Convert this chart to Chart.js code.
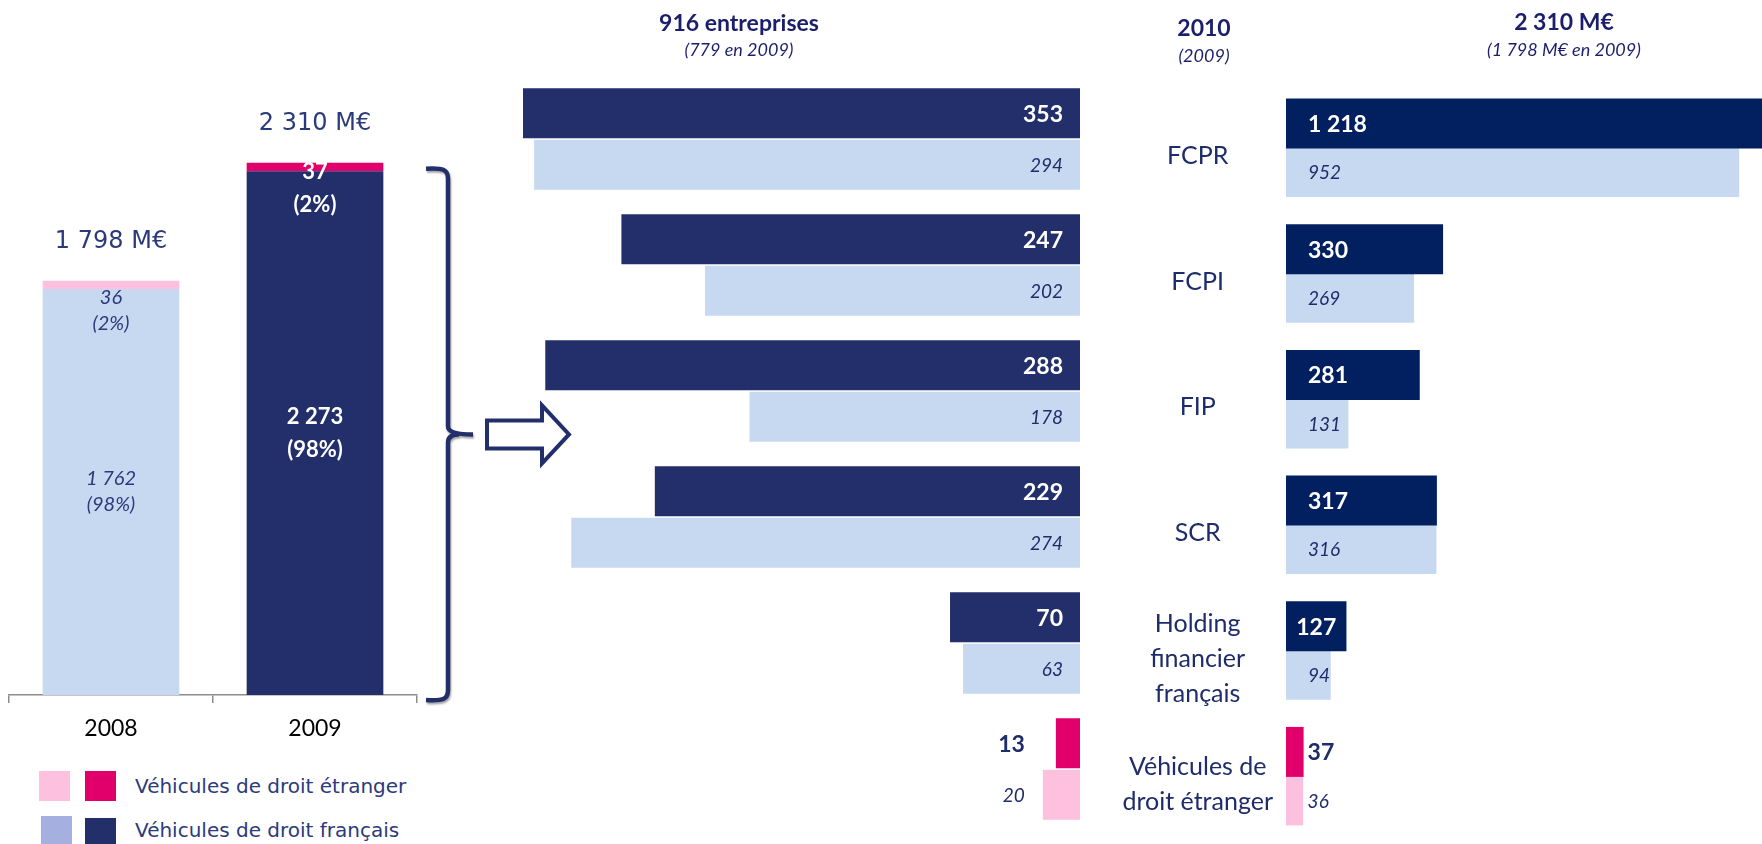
<!DOCTYPE html>
<html lang="fr">
<head>
<meta charset="utf-8">
<script src="https://cdn.jsdelivr.net/npm/chart.js@4.4.1/dist/chart.umd.min.js"></script>
<style>
body{margin:0;background:#fff;}
#page{position:relative;width:1762px;height:844px;overflow:hidden;font-family:Lato,sans-serif;}
canvas{position:absolute;top:0;}
.t{position:absolute;white-space:nowrap;transform:translate(-50%,-50%);color:#1b1f6b;}
.b{font-weight:bold;font-size:23px;}
.i{font-style:italic;font-size:18px;}
.sq{position:absolute;width:31px;}
.lg{position:absolute;left:135px;font-family:"DejaVu Sans",sans-serif;font-size:20px;color:#2b3a7a;transform:translateY(-50%);white-space:nowrap;}
</style>
</head>
<body>
<div id="page">
  <canvas id="left" style="left:0;width:580px;height:755px" width="580" height="755"></canvas>
  <canvas id="mid" style="left:505px;width:590px;height:844px" width="590" height="844"></canvas>
  <canvas id="right" style="left:1100px;width:662px;height:900px" width="662" height="900"></canvas>

  <div class="t b" style="left:739px;top:22px">916 entreprises</div>
  <div class="t i" style="left:739px;top:49px">(779 en 2009)</div>
  <div class="t b" style="left:1204px;top:27px">2010</div>
  <div class="t i" style="left:1204px;top:55px">(2009)</div>
  <div class="t b" id="totNew" style="left:1564px;top:21px"></div>
  <div class="t i" id="totOld" style="left:1564px;top:49px"></div>

  <div class="sq" style="left:39px;top:771px;height:30px;background:#fec0df"></div>
  <div class="sq" style="left:85px;top:771px;height:30px;background:#e1006b"></div>
  <div class="lg" style="top:786px">Véhicules de droit étranger</div>
  <div class="sq" style="left:41px;top:816px;height:30px;background:#a6b0e0"></div>
  <div class="sq" style="left:85px;top:818px;height:30px;background:#222f6b"></div>
  <div class="lg" style="top:830px">Véhicules de droit français</div>
</div>
<script>
// ---- données ----
const years = ["2008", "2009"];
const montFr = [1762, 2273];
const montEtr = [36, 37];
const pctFr = ["98%", "98%"];
const pctEtr = ["2%", "2%"];

const categories = [["FCPR"], ["FCPI"], ["FIP"], ["SCR"], ["Holding", "financier", "français"], ["Véhicules de", "droit étranger"]];
const entr2010 = [353, 247, 288, 229, 70, 13];
const entr2009 = [294, 202, 178, 274, 63, 20];
const mont2010 = [1218, 330, 281, 317, 127, 37];
const mont2009 = [952, 269, 131, 316, 94, 36];

// ---- couleurs ----
const NAVY = "#222f6b", NAVY2 = "#02205f", LIGHT = "#c6d9f0", MAG = "#e1006b", PINK = "#fec0df";
const TXT = "#1f2c6b";
const barColFr = [LIGHT, NAVY];
const barColEtr = [PINK, MAG];

const fmt = n => String(n).replace(/\B(?=(\d{3})+(?!\d))/g, " ");
const sum = a => a.reduce((s, v) => s + v, 0);

document.getElementById("totNew").textContent = fmt(sum(mont2010)) + " M€";
document.getElementById("totOld").textContent = "(" + fmt(sum(mont2009)) + " M€ en 2009)";

const lastCol = (base, last) => categories.map((c, i) => i === categories.length - 1 ? last : base);

// =====================
// GRAPHIQUE GAUCHE
// =====================

const leftDeco = {
  id: "leftDeco",
  afterDatasetsDraw(chart) {
    const ctx = chart.ctx;
    const fr = chart.getDatasetMeta(0).data;
    const et = chart.getDatasetMeta(1).data;
    const area = chart.chartArea;
    const y = chart.scales.y;
    ctx.save();
    ctx.textAlign = "center";
    ctx.textBaseline = "middle";
    years.forEach((yr, i) => {
      const dark = barColFr[i] === NAVY;
      const st = dark
        ? {font: "bold 22px Lato", col: "#fff", gap: 33, off: 1}
        : {font: "italic 20px Lato", col: "#2b3a7a", gap: 26, off: 8};
      ctx.font = st.font;
      ctx.fillStyle = st.col;
      const cy = (fr[i].y + fr[i].base) / 2;
      ctx.fillText(fmt(montFr[i]), fr[i].x, cy - st.gap / 2);
      ctx.fillText("(" + pctFr[i] + ")", fr[i].x, cy + st.gap / 2);
      const y0 = et[i].base + st.off;
      ctx.fillText(fmt(montEtr[i]), et[i].x, y0);
      ctx.fillText("(" + pctEtr[i] + ")", et[i].x, y0 + st.gap);
      // total
      ctx.font = "24px 'DejaVu Sans'";
      ctx.fillStyle = "#2b3a7a";
      ctx.fillText(fmt(montFr[i] + montEtr[i]) + " M€", et[i].x, et[i].y - 39);
    });

    // accolade
    const top = y.getPixelForValue(montFr[1] + montEtr[1]) + 6;
    const bot = y.getPixelForValue(0) + 5;
    const mid = (top + bot) / 2;
    const x0 = area.right + 9, xl = area.right + 31, tip = area.right + 56;
    ctx.strokeStyle = NAVY;
    ctx.lineWidth = 4.5;
    ctx.shadowColor = "rgba(0,0,0,0.35)";
    ctx.shadowOffsetX = 1;
    ctx.shadowOffsetY = 2;
    ctx.shadowBlur = 2;
    ctx.beginPath();
    ctx.moveTo(x0, top);
    ctx.bezierCurveTo(xl - 4, top - 1, xl, top + 1, xl, top + 10);
    ctx.lineTo(xl, mid - 8);
    ctx.quadraticCurveTo(xl, mid, tip, mid);
    ctx.moveTo(xl, mid + 8);
    ctx.quadraticCurveTo(xl, mid, tip - 14, mid);
    ctx.moveTo(xl, mid + 8);
    ctx.lineTo(xl, bot - 10);
    ctx.bezierCurveTo(xl, bot - 1, xl - 4, bot + 1, x0, bot);
    ctx.stroke();

    // flèche
    ctx.shadowColor = "transparent";
    const a0 = area.right + 70, hb = area.right + 125, at = area.right + 152;
    ctx.beginPath();
    ctx.moveTo(a0, mid - 14);
    ctx.lineTo(hb, mid - 14);
    ctx.lineTo(hb, mid - 29);
    ctx.lineTo(at, mid);
    ctx.lineTo(hb, mid + 29);
    ctx.lineTo(hb, mid + 14);
    ctx.lineTo(a0, mid + 14);
    ctx.closePath();
    ctx.fillStyle = "#fff";
    ctx.fill();
    ctx.lineWidth = 4;
    ctx.stroke();
    ctx.restore();
  }
};

new Chart(document.getElementById("left"), {
  type: "bar",
  data: {
    labels: years,
    datasets: [
      {label: "Véhicules de droit français", data: montFr, backgroundColor: barColFr},
      {label: "Véhicules de droit étranger", data: montEtr, backgroundColor: barColEtr}
    ]
  },
  options: {
    responsive: false,
    animation: false,
    layout: {padding: {left: 9, right: 163, top: 96, bottom: 0}},
    barPercentage: 0.67,
    categoryPercentage: 1,
    plugins: {legend: {display: false}, tooltip: {enabled: false}},
    scales: {
      x: {
        stacked: true,
        grid: {drawOnChartArea: false, drawTicks: true, tickLength: 8, color: "#8c8c8c", lineWidth: 1.5},
        border: {display: true, color: "#8c8c8c", width: 1.5},
        ticks: {color: "#000", padding: 12, font: {family: "Lato", size: 23}},
        afterFit(s) { s.height = 60; }
      },
      y: {stacked: true, display: false, min: 0, max: 2600}
    }
  },
  plugins: [leftDeco]
});

// =====================
// ETIQUETTES BARRES
// =====================

function barLabels(side) {
  return {
    id: "barLabels",
    afterDatasetsDraw(chart) {
      const ctx = chart.ctx;
      const metas = [0, 1].map(d => chart.getDatasetMeta(d).data);
      ctx.save();
      ctx.textBaseline = "middle";
      metas.forEach((bars, d) => {
        const vals = chart.data.datasets[d].data;
        bars.forEach((bar, i) => {
          const txt = fmt(vals[i]);
          ctx.font = d === 0 ? "bold 23px Lato" : "italic 19px Lato";
          const tw = ctx.measureText(txt).width;
          const len = Math.abs(bar.base - bar.x);
          let x, align, col = d === 0 ? "#fff" : TXT;
          if (side === "end") {
            if (tw + 24 < len) { x = bar.base - 17; align = "right"; }
            else { x = Math.min(metas[0][i].x, metas[1][i].x) - 18; align = "right"; col = TXT; }
          } else {
            if (tw + 22 <= len) { x = bar.base + 22; align = "left"; }
            else if (tw + 4 <= len) { x = (bar.base + bar.x) / 2; align = "center"; }
            else { x = Math.max(metas[0][i].x, metas[1][i].x) + 4; align = "left"; col = TXT; }
          }
          ctx.textAlign = align;
          ctx.fillStyle = col;
          ctx.fillText(txt, x, bar.y + 1);
        });
      });
      ctx.restore();
    }
  };
}

// =====================
// NOMBRE D'ENTREPRISES
// =====================

new Chart(document.getElementById("mid"), {
  type: "bar",
  data: {
    labels: categories,
    datasets: [
      {label: "2010", data: entr2010, backgroundColor: lastCol(NAVY, MAG), clip: 0},
      {label: "2009", data: entr2009, backgroundColor: lastCol(LIGHT, PINK), clip: 0}
    ]
  },
  options: {
    indexAxis: "y",
    responsive: false,
    animation: false,
    layout: {padding: {left: 18, right: 15, top: 76, bottom: 12}},
    categoryPercentage: 0.817,
    barPercentage: 0.97,
    plugins: {legend: {display: false}, tooltip: {enabled: false}},
    scales: {
      x: {display: false, reverse: true, min: 0, max: 300},
      y: {display: false}
    }
  },
  plugins: [barLabels("end")]
});

// =====================
// MONTANTS
// =====================

new Chart(document.getElementById("right"), {
  type: "bar",
  data: {
    labels: categories,
    datasets: [
      {label: "2010", data: mont2010, backgroundColor: lastCol(NAVY2, MAG)},
      {label: "2009", data: mont2009, backgroundColor: lastCol(LIGHT, PINK)}
    ]
  },
  options: {
    indexAxis: "y",
    responsive: false,
    animation: false,
    layout: {padding: {left: 0, right: 0, top: 85, bottom: 61}},
    categoryPercentage: 0.772,
    barPercentage: 1.03,
    plugins: {legend: {display: false}, tooltip: {enabled: false}},
    scales: {
      x: {display: false, min: 0, max: 1000},
      y: {
        grid: {display: false, drawTicks: false},
        border: {display: false},
        ticks: {
          crossAlign: "center",
          padding: 13,
          labelOffset: 8,
          color: TXT,
          font: {family: "Lato", size: 25, lineHeight: 1.4}
        },
        afterFit(s) { s.width = 186; }
      }
    }
  },
  plugins: [barLabels("start")]
});
</script>
</body>
</html>
